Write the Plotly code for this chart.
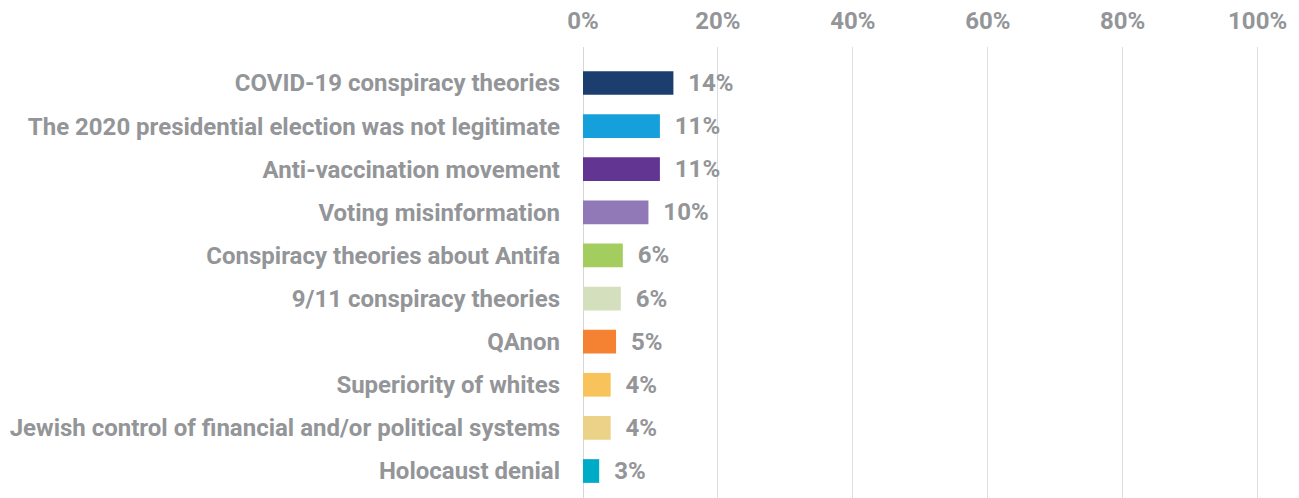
import plotly.graph_objects as go

categories = [
    "COVID-19 conspiracy theories",
    "The 2020 presidential election was not legitimate",
    "Anti-vaccination movement",
    "Voting misinformation",
    "Conspiracy theories about Antifa",
    "9/11 conspiracy theories",
    "QAnon",
    "Superiority of whites",
    "Jewish control of financial and/or political systems",
    "Holocaust denial",
]
values = [13.4, 11.4, 11.4, 9.7, 5.9, 5.6, 4.9, 4.1, 4.1, 2.4]
labels = ["14%", "11%", "11%", "10%", "6%", "6%", "5%", "4%", "4%", "3%"]
colors = ["#1c3e6e", "#15a0db", "#623593", "#9079b6", "#a3cd5e",
          "#d3dfbd", "#f58233", "#f9c35b", "#ecd188", "#00abc8"]
tick_vals = [0, 20, 40, 60, 80, 100]
tick_text = ["0%", "20%", "40%", "60%", "80%", "100%"]

GREY = "#939598"

fig = go.Figure(go.Bar(
    x=values,
    y=categories,
    orientation="h",
    marker=dict(color=colors, line=dict(width=0)),
    width=0.55,
    text=labels,
    texttemplate="\u00a0\u00a0%{text}",
    textposition="outside",
    constraintext="none",
    cliponaxis=False,
    textfont=dict(family="Roboto", size=24, color=GREY, weight="bold"),
    hoverinfo="skip",
))

fig.update_layout(
    width=1291,
    height=490,
    margin=dict(l=575, r=38, t=39, b=0),
    paper_bgcolor="white",
    plot_bgcolor="white",
    showlegend=False,
    font=dict(family="Roboto", color=GREY, weight="bold"),
    xaxis=dict(
        side="top",
        range=[0, 100.5],
        tickvals=tick_vals,
        ticktext=tick_text,
        showgrid=True,
        gridcolor="#dedede",
        gridwidth=1,
        zeroline=True,
        zerolinecolor="#d6d6d6",
        zerolinewidth=1,
        showline=False,
        ticks="",
        ticklabelstandoff=12,
        automargin=False,
        tickfont=dict(family="Roboto", size=24, color=GREY, weight="bold"),
    ),
    yaxis=dict(
        categoryorder="array",
        categoryarray=categories,
        range=[9.626, -0.835],
        showgrid=False,
        zeroline=False,
        showline=False,
        ticks="",
        ticklabelstandoff=22,
        automargin=False,
        tickfont=dict(family="Roboto", size=24, color=GREY, weight="bold"),
    ),
)

fig.write_html("out.html")
